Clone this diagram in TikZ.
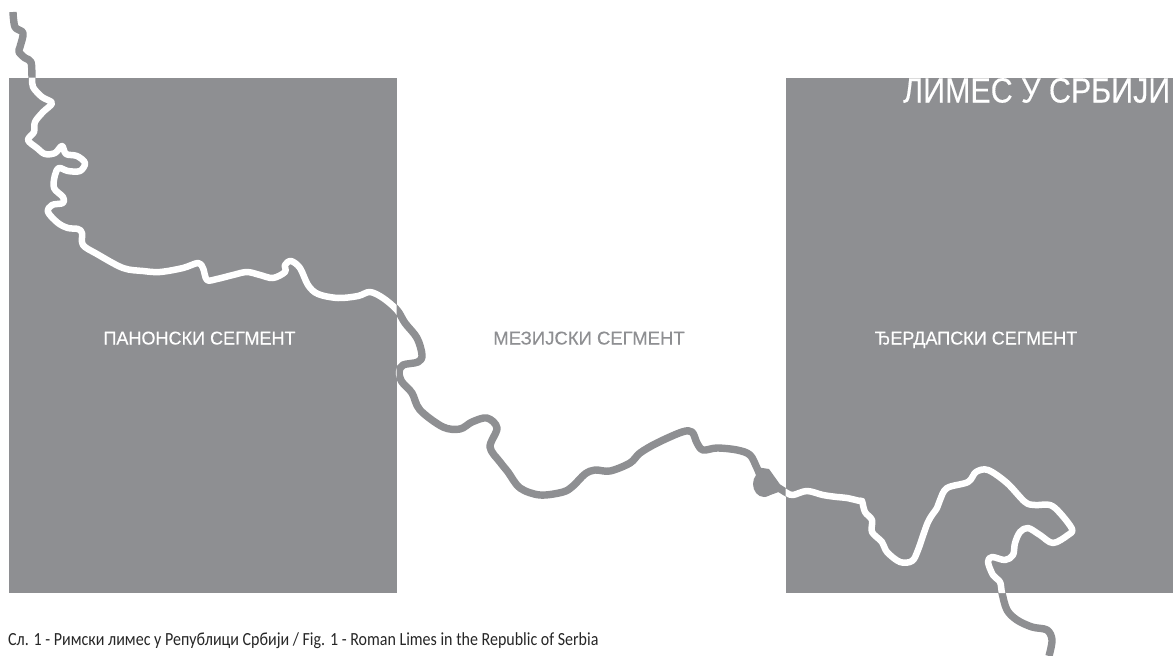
\documentclass[tikz,border=0pt]{standalone}
\usepackage{fontspec}
\setmainfont{Liberation Sans}
\newfontfamily\labfont[FakeBold=0.25]{Liberation Sans}
\newfontfamily\capfont{Carlito}
\definecolor{slab}{HTML}{8E8F92}
\def\rivercoords{(13,12)(15,27)(23,33)(20,47)(19,52)(25,58)(31,62)(32,77)(33,87)(42,97)(52,103)(43,112)(35,122)(34,132)(28,140)(37,148)(45,154)(55,153)(62,146)(66,154)(77,156)(85,163)(80,171)(68,171)(59,168)(55,175)(54,188)(63,197)(63,203)(52,205)(48,212)(58,223)(68,228)(78,229)(82,233)(83,245)(97,254)(123,268)(143,271)(160,272)(183,268)(198,263)(203,268)(207,280)(217,279)(233,275)(247,272)(260,275)(273,278)(285,272)(285,265)(291,261)(300,268)(308,285)(318,294)(338,298)(358,296)(370,292)(383,298)(397,310)(405,323)(417,338)(422,355)(418,362)(403,365)(399,372)(402,382)(412,393)(420,410)(443,427)(460,429)(472,422)(487,418)(497,428)(490,447)(500,462)(508,472)(520,488)(540,495)(563,492)(573,486)(585,474)(595,470)(610,471)(630,463)(640,453)(657,443)(682,432)(692,432)(697,443)(703,450)(717,448)(737,450)(750,455)(757,468)(763,480)(777,487)(787,493)(793,495)(807,491)(823,495)(837,497)(847,498)(860,501)(862,501)(865,512)(872,520)(872,532)(882,542)(887,552)(900,562)(912,561)(918,550)(928,522)(937,508)(940,500)(947,488)(968,482)(976,472)(988,470)(1007,483)(1025,502)(1035,505)(1050,505)(1060,513)(1072,529)(1068,535)(1053,543)(1040,535)(1028,528)(1020,532)(1015,543)(1013,555)(1005,560)(992,557)(988,562)(993,575)(1000,582)(1002,593)(1007,610)(1017,620)(1032,627)(1047,630)(1052,640)(1049,656)}
\tikzset{
  slabbox/.style={fill=slab,draw=none},
  riverline/.style={line width=#1,line join=round,smooth,tension=0.55},
  seglabel/.style={font=\labfont\fontsize{18.5}{22}\selectfont,inner sep=0pt,anchor=base},
}
\begin{document}
\begin{tikzpicture}[x=1pt,y=-1pt]
\useasboundingbox (0,0) rectangle (1173,656);
\clip (0,0) rectangle (1173,656);
% river, grey part on the white ground
\draw[slab,riverline=7.4pt] plot coordinates {\rivercoords};
\fill[slab] (764,484) ellipse (11 and 13);
\fill[slab] (756,467) -- (769,469) -- (784,490) -- (765,497) -- cycle;
% slabs
\fill[slabbox] (8.5,77.5) rectangle (396.5,593);
\fill[slabbox] (785.5,77.5) rectangle (1173,593);
% river, white part on the slabs
\begin{scope}
\clip (8.5,77.5) rectangle (396.5,593) (785.5,77.5) rectangle (1173,593);
\draw[white,riverline=6.5pt] plot coordinates {\rivercoords};
\end{scope}
% labels
\node[seglabel,text=white,xscale=0.975] (pan) at (199.5,344.5) {ПАНОНСКИ СЕГМЕНТ};
\node[seglabel,text=slab] (mez) at (589,344.5) {МЕЗИЈСКИ СЕГМЕНТ};
\node[seglabel,text=white,xscale=0.975] (djer) at (976,344.5) {ЂЕРДАПСКИ СЕГМЕНТ};
\node[text=white,font=\labfont\fontsize{35}{40}\selectfont,inner sep=0pt,anchor=base west,xscale=0.87] (title) at (903,102.5) {ЛИМЕС У СРБИЈИ};
\node[text=black!85,font=\capfont\fontsize{18.5}{22}\selectfont,inner sep=0pt,anchor=base west,xscale=0.865] (cap) at (8,645) {Сл. 1 - Римски лимес у Републици Србији / Fig. 1 - Roman Limes in the Republic of Serbia};
\end{tikzpicture}
\end{document}
